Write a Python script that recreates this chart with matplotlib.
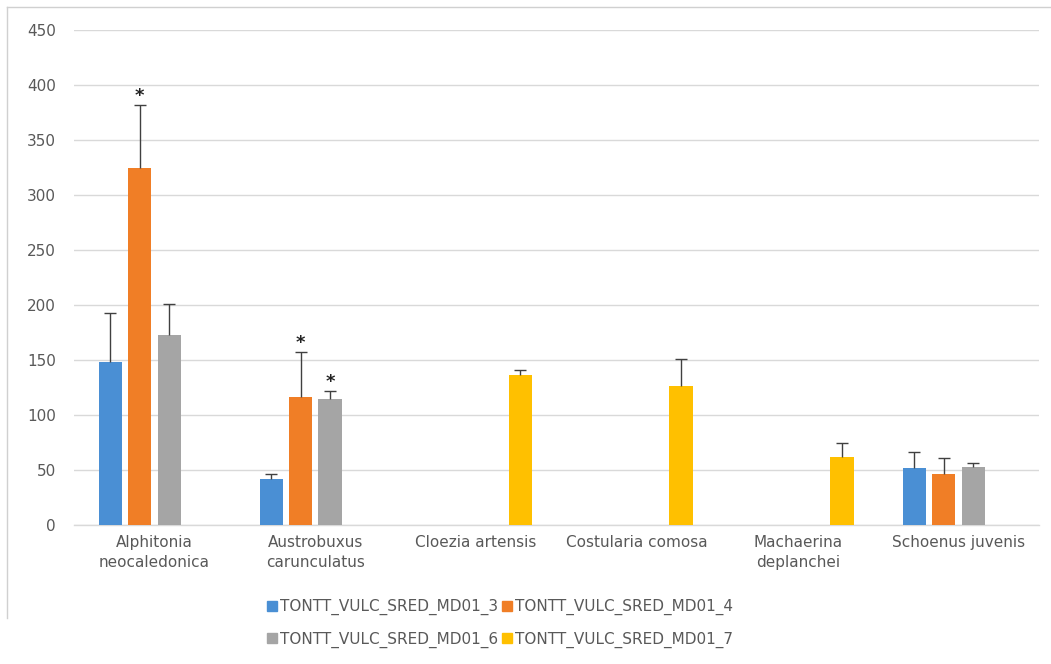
import numpy as np
import matplotlib.pyplot as plt
from matplotlib.lines import Line2D

plt.rcParams['font.family'] = ['DejaVu Sans']

categories = ['Alphitonia\nneocaledonica', 'Austrobuxus\ncarunculatus', 'Cloezia artensis',
              'Costularia comosa', 'Machaerina\ndeplanchei', 'Schoenus juvenis']
series = ['TONTT_VULC_SRED_MD01_3', 'TONTT_VULC_SRED_MD01_4',
          'TONTT_VULC_SRED_MD01_6', 'TONTT_VULC_SRED_MD01_7']
colors = ['#4a8fd4', '#f07e26', '#a5a5a5', '#ffc000']

nan = np.nan
md01_3 = [148, 42, nan, nan, nan, 52]
md01_4 = [325, 116, nan, nan, nan, 46]
md01_6 = [173, 115, nan, nan, nan, 53]
md01_7 = [nan, nan, 136, 126, 62, nan]
err_3 = [45, 4, 0, 0, 0, 14]
err_4 = [57, 41, 0, 0, 0, 15]
err_6 = [28, 7, 0, 0, 0, 3]
err_7 = [0, 0, 5, 25, 13, 0]
# (series index, category index) with significance star
stars = [(1, 0), (1, 1), (2, 1)]

values = [md01_3, md01_4, md01_6, md01_7]
errors = [err_3, err_4, err_6, err_7]

fig = plt.figure(figsize=(10.51, 6.64), dpi=100)
ax = fig.add_axes([0.0705, 0.2093, 0.918, 0.7455])

x = np.arange(len(categories))
step = 0.183
width = 0.145
for i in range(4):
    pos = x + (i - 1.5) * step
    v = np.array(values[i], dtype=float)
    e = np.array(errors[i], dtype=float)
    ax.bar(pos, v, width=width, color=colors[i], zorder=3)
    mask = ~np.isnan(v)
    # upper error only, no cap at the bar top
    ax.vlines(pos[mask], v[mask], v[mask] + e[mask], color='#404040', linewidth=1, zorder=4)
    ax.plot(pos[mask], v[mask] + e[mask], linestyle='none', marker='_', markersize=9,
            markeredgewidth=1, color='#404040', zorder=4)

for s, c in stars:
    top = values[s][c] + errors[s][c]
    ax.text(x[c] + (s - 1.5) * step, top, '*', ha='center', va='bottom',
            fontsize=13, fontweight='bold', color='#222222', zorder=5)

ax.set_xlim(-0.5, len(categories) - 0.5)
ax.set_ylim(0, 450)
ax.set_yticks(np.arange(0, 451, 50))
ax.set_xticks(x)
ax.set_xticklabels(categories, fontsize=11, color='#595959', linespacing=1.45)
ax.tick_params(axis='y', labelsize=11, labelcolor='#595959', length=0, pad=13)
ax.tick_params(axis='x', length=0, pad=7)
ax.grid(axis='y', color='#d9d9d9', linewidth=1, zorder=0)
ax.axhline(0, color='#d9d9d9', linewidth=1, zorder=1, clip_on=False)
for sp in ax.spines.values():
    sp.set_visible(False)

handles = [Line2D([], [], marker='s', linestyle='none', markersize=7, color=c) for c in colors]
order = [0, 2, 1, 3]
fig.legend([handles[k] for k in order], [series[k] for k in order], loc='center',
           bbox_to_anchor=(0.475, 0.061), ncol=2, frameon=False, fontsize=11,
           labelcolor='#595959', handletextpad=0.1, columnspacing=0.2,
           labelspacing=1.05, handlelength=0.8)

# chart frame
fig.add_artist(Line2D([0.0067, 0.0067], [0.07, 0.99], color='#d0d0d0', linewidth=1))
fig.add_artist(Line2D([0.0067, 1.0], [0.99, 0.99], color='#d0d0d0', linewidth=1))

fig.savefig('out.png', dpi=100)
